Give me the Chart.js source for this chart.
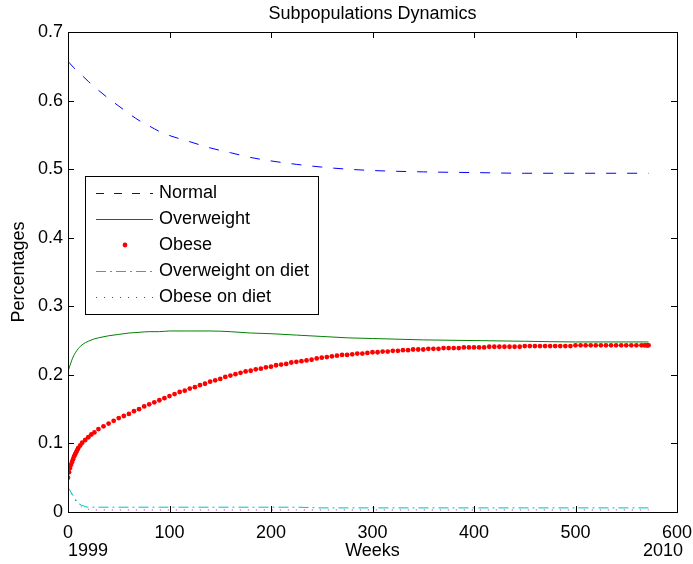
<!DOCTYPE html>
<html>
<head>
<meta charset="utf-8">
<script src="https://cdn.jsdelivr.net/npm/chart.js@4.4.1/dist/chart.umd.min.js"></script>
<style>
  html, body { margin: 0; padding: 0; background: #ffffff; }
  #wrap { width: 693px; height: 564px; }
</style>
</head>
<body>
<div id="wrap"><canvas id="popChart" width="693" height="564"></canvas></div>
<script>
// weeks sampled for the smooth curves
const lineWeeks = [0, 2, 5, 10, 15, 20, 25, 30, 40, 50, 60, 70, 80, 90, 100, 120, 140, 160, 180, 200, 225, 250, 275, 300, 350, 400, 450, 500, 550, 572];
const normalShare = [0.657, 0.654, 0.649, 0.642, 0.635, 0.628, 0.621, 0.615, 0.603, 0.592, 0.581, 0.571, 0.563, 0.555, 0.549, 0.540, 0.531, 0.524, 0.517, 0.512, 0.507, 0.503, 0.500, 0.498, 0.496, 0.495, 0.494, 0.494, 0.494, 0.494];
const overweightShare = [0.205, 0.214, 0.226, 0.238, 0.245, 0.249, 0.252, 0.254, 0.257, 0.259, 0.261, 0.262, 0.263, 0.263, 0.264, 0.264, 0.264, 0.263, 0.261, 0.260, 0.258, 0.256, 0.254, 0.253, 0.251, 0.250, 0.249, 0.248, 0.248, 0.248];
const overweightDietShare = [0.036, 0.031, 0.024, 0.013, 0.009, 0.007, 0.007, 0.007, 0.007, 0.007, 0.007, 0.007, 0.007, 0.007, 0.007, 0.007, 0.007, 0.007, 0.007, 0.007, 0.007, 0.006, 0.006, 0.006, 0.006, 0.006, 0.006, 0.006, 0.006, 0.006];
const obeseDietShare = [0.038, 0.031, 0.022, 0.012, 0.006, 0.004, 0.003, 0.003, 0.003, 0.003, 0.003, 0.003, 0.003, 0.003, 0.003, 0.003, 0.003, 0.003, 0.003, 0.003, 0.003, 0.003, 0.003, 0.003, 0.003, 0.003, 0.003, 0.003, 0.003, 0.003];

// obese series is plotted as dots (solver output steps)
const obeseWeeks = [0, 1, 2, 3, 4, 5, 6, 7, 8, 9, 10, 12, 14, 17, 20, 23, 26, 30,
  35, 40, 45, 50, 55, 60, 65, 70, 75, 80, 85, 90, 95, 100, 105, 110, 115, 120, 125, 130, 135, 140,
  145, 150, 155, 160, 165, 170, 175, 180, 185, 190, 195, 200, 205, 210, 215, 220, 225, 230, 235, 240,
  245, 250, 255, 260, 265, 270, 275, 280, 285, 290, 295, 300, 305, 310, 315, 320, 325, 330, 335, 340,
  345, 350, 355, 360, 365, 370, 375, 380, 385, 390, 395, 400, 405, 410, 415, 420, 425, 430, 435, 440,
  445, 450, 455, 460, 465, 470, 475, 480, 485, 490, 495, 500, 505, 510, 515, 520, 525, 530, 535, 540,
  545, 550, 555, 560, 565, 568, 570, 571, 572];
const obeseShare = [0.050, 0.058, 0.064, 0.069, 0.073, 0.077, 0.081, 0.084, 0.087, 0.090, 0.093, 0.097, 0.101, 0.105, 0.109, 0.113, 0.116, 0.121,
  0.125, 0.129, 0.133, 0.137, 0.140, 0.143, 0.147, 0.150, 0.154, 0.157, 0.160, 0.163, 0.166, 0.169, 0.172, 0.175, 0.177, 0.180, 0.182, 0.185, 0.187, 0.190,
  0.192, 0.194, 0.197, 0.199, 0.201, 0.203, 0.205, 0.206, 0.208, 0.209, 0.211, 0.212, 0.214, 0.215, 0.216, 0.218, 0.219, 0.220, 0.221, 0.222,
  0.224, 0.225, 0.226, 0.227, 0.228, 0.229, 0.229, 0.230, 0.231, 0.231, 0.232, 0.233, 0.233, 0.234, 0.234, 0.235, 0.235, 0.236, 0.236, 0.237,
  0.237, 0.237, 0.238, 0.238, 0.238, 0.239, 0.239, 0.239, 0.239, 0.240, 0.240, 0.240, 0.240, 0.240, 0.241, 0.241, 0.241, 0.241, 0.241, 0.241,
  0.241, 0.242, 0.242, 0.242, 0.242, 0.242, 0.242, 0.242, 0.242, 0.242, 0.242, 0.243, 0.243, 0.243, 0.243, 0.243, 0.243, 0.243, 0.243, 0.243,
  0.243, 0.243, 0.243, 0.243, 0.243, 0.243, 0.243, 0.243, 0.243];

const xTicks = [0, 100, 200, 300, 400, 500, 600];
const yTicks = [0, 0.1, 0.2, 0.3, 0.4, 0.5, 0.6, 0.7];
const yearLabels = ['1999', '2010'];

const FONT = 'Liberation Sans, Arial, Helvetica, sans-serif';

function pairs(xs, ys) {
    return xs.map((w, i) => ({ x: w, y: ys[i] }));
}

// MATLAB-like box with inward ticks on all four sides
const framePlugin = {
    id: 'frame',
    afterDraw(chart) {
        const { ctx, chartArea: a, scales: { x, y } } = chart;
        const len = 6;
        ctx.save();
        ctx.strokeStyle = '#000';
        ctx.lineWidth = 1;
        ctx.beginPath();
        x.ticks.forEach(t => {
            const px = Math.round(x.getPixelForValue(t.value)) + 0.5;
            ctx.moveTo(px, a.bottom); ctx.lineTo(px, a.bottom - len);
            ctx.moveTo(px, a.top); ctx.lineTo(px, a.top + len);
        });
        y.ticks.forEach(t => {
            const py = Math.round(y.getPixelForValue(t.value)) + 0.5;
            ctx.moveTo(a.left, py); ctx.lineTo(a.left + len, py);
            ctx.moveTo(a.right, py); ctx.lineTo(a.right - len, py);
        });
        ctx.stroke();
        ctx.strokeRect(Math.round(a.left) + 0.5, Math.round(a.top) + 0.5,
            Math.round(a.right - a.left), Math.round(a.bottom - a.top));

        // start / end years under the axis
        ctx.fillStyle = '#000';
        ctx.font = '18px ' + FONT;
        ctx.textBaseline = 'middle';
        ctx.textAlign = 'left';
        ctx.fillText(yearLabels[0], a.left, 551);
        ctx.textAlign = 'right';
        ctx.fillText(yearLabels[1], a.right + 6, 551);
        ctx.restore();
    }
};

// legend box inside the plot, upper left
const boxLegend = {
    id: 'boxLegend',
    afterDraw(chart) {
        const ctx = chart.ctx;
        const bx = 85, by = 176, bw = 233, bh = 138, row = 26;
        ctx.save();
        ctx.fillStyle = '#fff';
        ctx.fillRect(bx, by, bw, bh);
        ctx.strokeStyle = '#000';
        ctx.lineWidth = 1;
        ctx.strokeRect(bx + 0.5, by + 0.5, bw, bh);
        ctx.font = '18px ' + FONT;
        ctx.textBaseline = 'middle';
        ctx.textAlign = 'left';
        chart.data.datasets.forEach((ds, i) => {
            const cy = by + 17 + i * row;
            if (ds.showLine === false) {
                ctx.fillStyle = ds.backgroundColor;
                ctx.beginPath();
                ctx.arc(125, cy, 2.4, 0, Math.PI * 2);
                ctx.fill();
            } else {
                ctx.strokeStyle = ds.borderColor;
                ctx.lineWidth = ds.borderWidth;
                ctx.setLineDash(ds.legendDash || ds.borderDash || []);
                ctx.beginPath();
                ctx.moveTo(96, cy + 0.5);
                ctx.lineTo(153, cy + 0.5);
                ctx.stroke();
                ctx.setLineDash([]);
            }
            ctx.fillStyle = '#000';
            ctx.fillText(ds.label, 159, cy);
        });
        ctx.restore();
    }
};

const ctxPop = document.getElementById('popChart').getContext('2d');
const popChart = new Chart(ctxPop, {
    type: 'scatter',
    data: {
        datasets: [
            {
                label: 'Normal',
                data: pairs(lineWeeks, normalShare),
                showLine: true,
                borderColor: '#0000ff',
                borderWidth: 1,
                borderDash: [10, 11],
                legendDash: [8, 10],
                pointRadius: 0,
                cubicInterpolationMode: 'monotone'
            },
            {
                label: 'Overweight',
                data: pairs(lineWeeks, overweightShare),
                showLine: true,
                borderColor: '#008000',
                borderWidth: 1,
                pointRadius: 0,
                cubicInterpolationMode: 'monotone'
            },
            {
                label: 'Obese',
                data: pairs(obeseWeeks, obeseShare),
                showLine: false,
                backgroundColor: '#ff0000',
                borderColor: '#ff0000',
                borderWidth: 0,
                pointRadius: 2.4,
                pointHoverRadius: 2.4
            },
            {
                label: 'Overweight on diet',
                data: pairs(lineWeeks, overweightDietShare),
                showLine: true,
                borderColor: '#00bfbf',
                borderWidth: 1,
                borderDash: [10, 4, 2, 4],
                pointRadius: 0,
                cubicInterpolationMode: 'monotone'
            },
            {
                label: 'Obese on diet',
                data: pairs(lineWeeks, obeseDietShare),
                showLine: true,
                borderColor: '#bf00bf',
                borderWidth: 1,
                borderDash: [1, 7],
                pointRadius: 0,
                cubicInterpolationMode: 'monotone'
            }
        ]
    },
    options: {
        responsive: false,
        animation: false,
        layout: { padding: { left: 0, right: 0, top: 0, bottom: 0 } },
        scales: {
            x: {
                type: 'linear',
                min: 0,
                max: 600,
                afterBuildTicks: scale => { scale.ticks = xTicks.map(v => ({ value: v })); },
                afterFit: scale => {
                    scale.height = 52;
                    scale.paddingLeft = 0;
                    scale.paddingRight = 16;
                },
                grid: { display: false, drawTicks: false },
                border: { display: false },
                ticks: { color: '#000', padding: 10, font: { family: FONT, size: 18 } },
                title: { display: true, text: 'Weeks', color: '#000', padding: { top: 0, bottom: 2 }, font: { family: FONT, size: 18 } }
            },
            y: {
                min: 0,
                max: 0.7,
                afterBuildTicks: scale => { scale.ticks = yTicks.map(v => ({ value: v })); },
                afterFit: scale => { scale.width = 68; },
                grid: { display: false, drawTicks: false },
                border: { display: false },
                ticks: {
                    color: '#000',
                    padding: 5,
                    font: { family: FONT, size: 18 },
                    callback: v => (v === 0 ? '0' : v.toFixed(1))
                },
                title: { display: true, text: 'Percentages', color: '#000', padding: { top: 8, bottom: 0 }, font: { family: FONT, size: 18 } }
            }
        },
        plugins: {
            legend: { display: false },
            tooltip: { enabled: false },
            title: {
                display: true,
                fullSize: false,
                text: 'Subpopulations Dynamics',
                color: '#000',
                padding: { top: 3, bottom: 7.4 },
                font: { family: FONT, size: 18, weight: 'normal' }
            }
        }
    },
    plugins: [framePlugin, boxLegend]
});
</script>
</body>
</html>
